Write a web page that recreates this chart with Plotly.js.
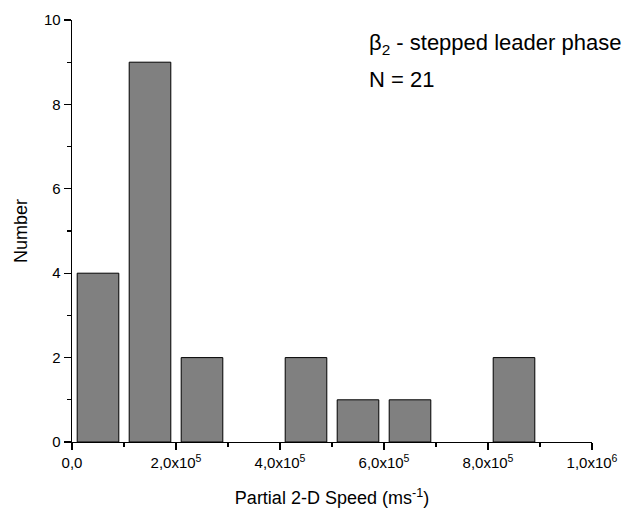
<!DOCTYPE html>
<html>
<head>
<meta charset="utf-8">
<script src="https://cdn.plot.ly/plotly-3.0.1.min.js"></script>
<style>
  html, body { margin: 0; padding: 0; background: #fff; }
  #chart { width: 629px; height: 513px; }
</style>
</head>
<body>
<div id="chart"></div>
<script>
// bin centres (ms-1) and counts per bin
const binCenters = [50000, 150000, 250000, 350000, 450000, 550000, 650000, 750000, 850000, 950000]
const counts = [4, 9, 2, 0, 2, 1, 1, 0, 2, 0]

const xTickVals = [0, 200000, 400000, 600000, 800000, 1000000]
const xTickText = ['0,0', '2,0x10<sup>5</sup>', '4,0x10<sup>5</sup>', '6,0x10<sup>5</sup>', '8,0x10<sup>5</sup>', '1,0x10<sup>6</sup>']
const xMinorVals = [100000, 300000, 500000, 700000, 900000]

const font = 'Liberation Sans, Arial, sans-serif'

// empty bins get no outline so they don't show as a flat line
const outlineWidths = counts.map(c => c > 0 ? 1 : 0)

const trace = {
  x: binCenters,
  y: counts,
  type: 'bar',
  marker: { color: '#808080', line: { color: '#000', width: outlineWidths } },
  hoverinfo: 'none'
}

const layout = {
  width: 629,
  height: 513,
  margin: { l: 72, r: 37, t: 20, b: 71 },
  paper_bgcolor: '#fff',
  plot_bgcolor: '#fff',
  showlegend: false,
  bargap: 0.2,
  font: { family: font, color: '#000', size: 15 },
  xaxis: {
    range: [0, 1000000],
    tickmode: 'array',
    tickvals: xTickVals,
    ticktext: xTickText,
    ticks: 'outside',
    ticklen: 7,
    tickwidth: 1.3,
    tickcolor: '#000',
    minor: { tickmode: 'array', tickvals: xMinorVals, ticks: 'outside', ticklen: 4, tickwidth: 1.3, tickcolor: '#000', showgrid: false },
    showline: true,
    linecolor: '#000',
    linewidth: 1.3,
    showgrid: false,
    zeroline: false,
    tickfont: { size: 15 },
    title: { text: 'Partial 2-D Speed (ms<sup>-1</sup>)', font: { size: 18 }, standoff: 21 }
  },
  yaxis: {
    range: [0, 10],
    tickmode: 'linear',
    tick0: 0,
    dtick: 2,
    ticks: 'outside',
    ticklen: 7,
    tickwidth: 1.3,
    tickcolor: '#000',
    minor: { tickmode: 'linear', tick0: 1, dtick: 2, ticks: 'outside', ticklen: 4, tickwidth: 1.3, tickcolor: '#000', showgrid: false },
    showline: true,
    linecolor: '#000',
    linewidth: 1.3,
    showgrid: false,
    zeroline: false,
    tickfont: { size: 15 },
    title: { text: 'Number', font: { size: 18 }, standoff: 11 }
  },
  annotations: [
    { xref: 'paper', yref: 'paper', x: 0.567, y: 0.943, xanchor: 'left', yanchor: 'middle', showarrow: false,
      text: 'β<sub>2</sub> - stepped leader phase', font: { size: 22 } },
    { xref: 'paper', yref: 'paper', x: 0.567, y: 0.860, xanchor: 'left', yanchor: 'middle', showarrow: false,
      text: 'N = 21', font: { size: 22 } }
  ]
}

Plotly.newPlot('chart', [trace], layout, { displayModeBar: false, staticPlot: true })
</script>
</body>
</html>
